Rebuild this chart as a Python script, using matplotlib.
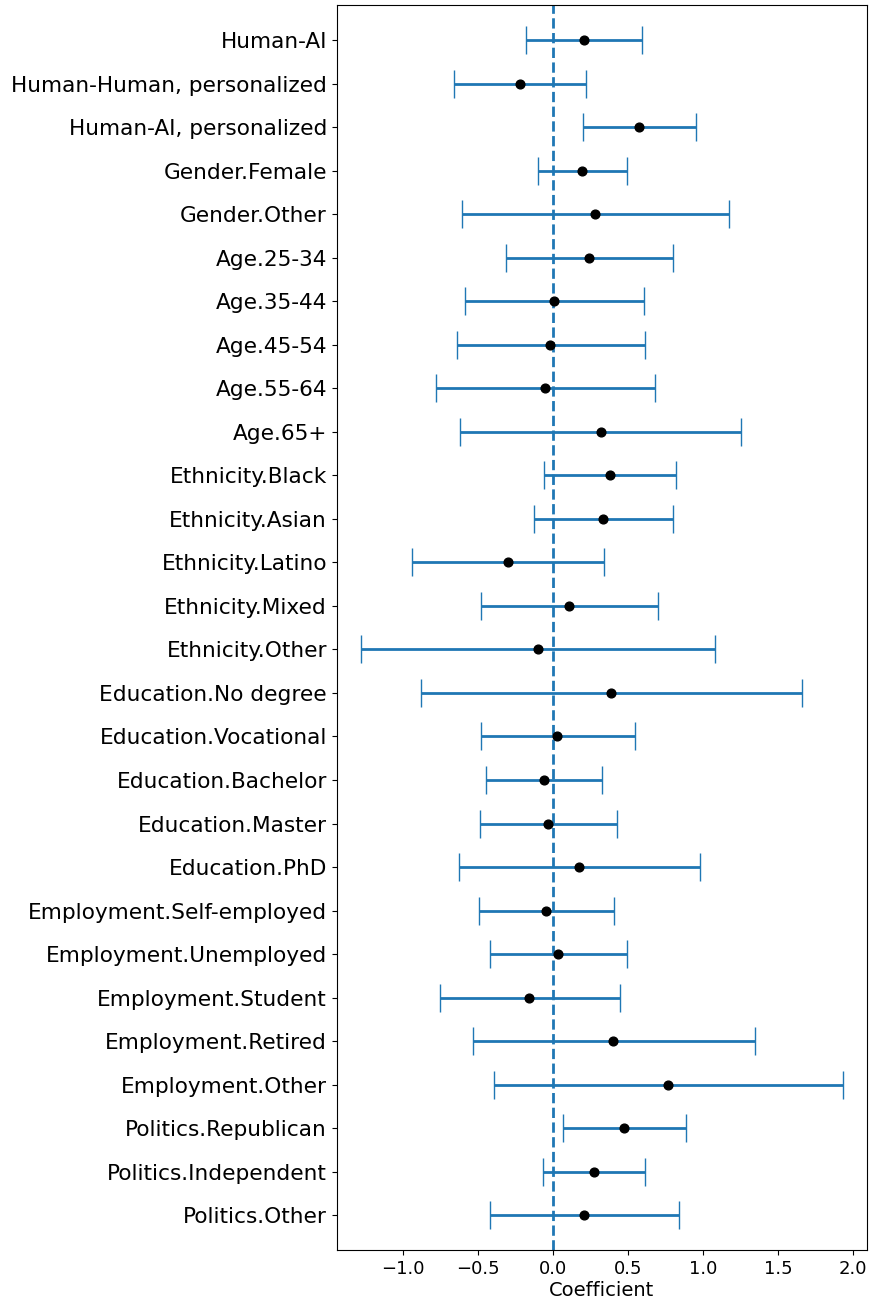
import numpy as np
import matplotlib
matplotlib.use('Agg')
from matplotlib import pyplot as plt

# regression coefficients with confidence intervals
terms = ['Human-AI', 'Human-Human, personalized', 'Human-AI, personalized',
         'Gender.Female', 'Gender.Other',
         'Age.25-34', 'Age.35-44', 'Age.45-54', 'Age.55-64', 'Age.65+',
         'Ethnicity.Black', 'Ethnicity.Asian', 'Ethnicity.Latino', 'Ethnicity.Mixed', 'Ethnicity.Other',
         'Education.No degree', 'Education.Vocational', 'Education.Bachelor', 'Education.Master', 'Education.PhD',
         'Employment.Self-employed', 'Employment.Unemployed', 'Employment.Student', 'Employment.Retired', 'Employment.Other',
         'Politics.Republican', 'Politics.Independent', 'Politics.Other']
coef = [0.207, -0.22, 0.573,
        0.193, 0.28,
        0.24, 0.007, -0.02, -0.053, 0.32,
        0.38, 0.333, -0.30, 0.107, -0.10,
        0.387, 0.027, -0.06, -0.033, 0.173,
        -0.047, 0.033, -0.16, 0.40, 0.767,
        0.473, 0.273, 0.207]
ci_low = [-0.18, -0.66, 0.20,
          -0.10, -0.607,
          -0.313, -0.587, -0.64, -0.78, -0.62,
          -0.06, -0.127, -0.94, -0.48, -1.28,
          -0.88, -0.48, -0.447, -0.487, -0.627,
          -0.493, -0.42, -0.753, -0.533, -0.393,
          0.067, -0.067, -0.42]
ci_high = [0.593, 0.22, 0.953,
           0.493, 1.173,
           0.80, 0.607, 0.613, 0.68, 1.253,
           0.82, 0.80, 0.34, 0.70, 1.08,
           1.66, 0.547, 0.327, 0.427, 0.98,
           0.407, 0.493, 0.447, 1.347, 1.933,
           0.887, 0.613, 0.84]

coef = np.array(coef)
err = [coef - np.array(ci_low), np.array(ci_high) - coef]
y = np.arange(len(terms))

fig, ax = plt.subplots(figsize=(8.7, 13.09), dpi=100)
fig.subplots_adjust(left=0.387, right=0.9966, top=0.996, bottom=0.045)

ax.errorbar(coef, y, xerr=err, fmt='none', ecolor='tab:blue', elinewidth=2, capsize=10)
ax.plot(coef, y, 'o', color='black', markersize=6.3, zorder=3)
ax.axvline(0, color='tab:blue', linestyle='--', linewidth=2)

ax.set_yticks(y)
ax.set_yticklabels(terms, fontsize=15.6)
ax.set_ylim(len(terms) - 0.2, -0.8)
ax.tick_params(axis='x', labelsize=13)
ax.set_xlabel('Coefficient', fontsize=14, labelpad=2)

plt.savefig('out.png', dpi=100)
